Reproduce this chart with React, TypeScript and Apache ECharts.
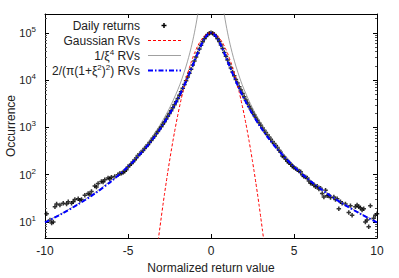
import React, { useEffect, useRef } from "react";
import * as echarts from "echarts";

const FONT = '"Liberation Sans", Arial, Helvetica, sans-serif';

// Daily returns histogram (x = normalized return, y = occurrence)
const returnsLeftTail: [number, number][] = [
  [-9.9, 15], [-9.7, 11], [-9.6, 9.5], [-9.5, 10], [-9.4, 21], [-9.3, 24], [-9.1, 23],
  [-8.9, 25], [-8.7, 24], [-8.6, 27], [-8.4, 25], [-8.3, 27], [-8.2, 30], [-8.0, 31],
  [-7.9, 29], [-7.8, 30], [-7.6, 37], [-7.4, 40], [-7.3, 38], [-7.2, 44], [-7.0, 58],
  [-6.9, 55], [-6.8, 65], [-6.6, 72], [-6.5, 70], [-6.4, 78], [-6.2, 85], [-6.1, 82],
  [-6.0, 88], [-5.8, 92], [-5.6, 100], [-5.5, 106], [-5.4, 108], [-5.3, 112], [-5.2, 118],
  [-5.1, 128], [-5.0, 148], [-4.9, 158], [-4.8, 170], [-4.7, 188], [-4.6, 205], [-4.5, 228],
  [-4.4, 255], [-4.3, 275], [-4.2, 300], [-4.1, 325],
];
const returnsCenter: [number, number][] = [
  [-4.0, 360], [-3.9, 395], [-3.8, 430], [-3.7, 480], [-3.6, 530], [-3.5, 600], [-3.4, 650],
  [-3.3, 740], [-3.2, 820], [-3.1, 930], [-3.0, 1040], [-2.9, 1170], [-2.8, 1320], [-2.7, 1500],
  [-2.6, 1720], [-2.5, 1960], [-2.4, 2250], [-2.3, 2600], [-2.2, 3000], [-2.1, 3500], [-2.0, 4100],
  [-1.9, 4800], [-1.8, 5700], [-1.7, 6750], [-1.6, 8050], [-1.5, 9650], [-1.4, 11600], [-1.3, 14000],
  [-1.2, 17000], [-1.1, 20800], [-1.0, 25400], [-0.9, 31000], [-0.8, 37500], [-0.7, 45500],
  [-0.6, 54500], [-0.5, 64500], [-0.4, 74500], [-0.3, 84000], [-0.2, 92000], [-0.1, 97500],
  [0.0, 100000], [0.1, 97800], [0.2, 92600], [0.3, 84800], [0.4, 75200], [0.5, 65200],
  [0.6, 55500], [0.7, 46500], [0.8, 38600], [0.9, 32000], [1.0, 26500], [1.1, 21800],
  [1.2, 18000], [1.3, 14900], [1.4, 12400], [1.5, 10300], [1.6, 8650], [1.7, 7250], [1.8, 6150],
  [1.9, 5200], [2.0, 4450], [2.1, 3800], [2.2, 3280], [2.3, 2820], [2.4, 2450], [2.5, 2130],
  [2.6, 1850], [2.7, 1620], [2.8, 1420], [2.9, 1250], [3.0, 1110], [3.1, 985], [3.2, 875],
  [3.3, 780], [3.4, 700], [3.5, 630], [3.6, 565], [3.7, 505], [3.8, 460], [3.9, 415], [4.0, 375],
];
const returnsRightTail: [number, number][] = [
  [4.1, 330], [4.2, 300], [4.3, 250], [4.4, 240], [4.5, 212], [4.6, 193], [4.7, 180], [4.8, 166],
  [4.9, 152], [5.0, 142], [5.1, 136], [5.2, 128], [5.3, 120], [5.4, 116], [5.5, 100], [5.6, 92],
  [5.7, 90], [5.8, 85], [5.9, 74], [6.0, 66], [6.1, 65], [6.2, 61], [6.3, 56], [6.4, 57],
  [6.5, 50], [6.6, 52], [6.7, 40], [6.8, 34], [6.9, 47], [7.0, 36], [7.1, 37], [7.2, 33],
  [7.4, 34], [7.5, 30], [7.6, 31], [7.7, 19], [7.8, 27], [7.9, 25], [8.1, 24], [8.3, 16],
  [8.4, 22], [8.5, 14], [8.7, 21], [8.8, 23], [8.9, 21], [9.0, 20], [9.1, 18], [9.2, 19],
  [9.3, 10], [9.4, 11], [9.5, 8], [9.6, 22], [9.8, 12], [9.9, 14], [10.0, 15],
];

// Gaussian RVs curve
const gaussianCurve: [number, number][] = [
  [-3.4, 0.96], [-3.3, 1.9], [-3.2, 3.6], [-3.1, 6.7], [-3.0, 12.3], [-2.9, 22.3], [-2.8, 39.4],
  [-2.7, 68.3], [-2.6, 116], [-2.5, 193], [-2.4, 315], [-2.3, 504], [-2.2, 791], [-2.1, 1215],
  [-2.0, 1832], [-1.9, 2705], [-1.8, 3916], [-1.7, 5558], [-1.6, 7730], [-1.5, 10540],
  [-1.4, 14086], [-1.3, 18452], [-1.2, 23693], [-1.1, 29820], [-1.0, 36788], [-0.9, 44486],
  [-0.8, 52729], [-0.7, 61263], [-0.6, 69768], [-0.5, 77880], [-0.4, 85214], [-0.3, 91393],
  [-0.2, 96079], [-0.1, 99005], [0.0, 100000], [0.1, 99005], [0.2, 96079], [0.3, 91393],
  [0.4, 85214], [0.5, 77880], [0.6, 69768], [0.7, 61263], [0.8, 52729], [0.9, 44486],
  [1.0, 36788], [1.1, 29820], [1.2, 23693], [1.3, 18452], [1.4, 14086], [1.5, 10540],
  [1.6, 7730], [1.7, 5558], [1.8, 3916], [1.9, 2705], [2.0, 1832], [2.1, 1215], [2.2, 791],
  [2.3, 504], [2.4, 315], [2.5, 193], [2.6, 116], [2.7, 68.3], [2.8, 39.4], [2.9, 22.3],
  [3.0, 12.3], [3.1, 6.7], [3.2, 3.6], [3.3, 1.9], [3.4, 0.96],
];

// 1/xi^4 RVs curve (two branches)
const powerLawLeft: [number, number][] = [
  [-10, 10], [-9, 15.2], [-8, 24.4], [-7, 41.6], [-6, 77.2], [-5, 160], [-4, 391], [-3.5, 666],
  [-3, 1235], [-2.5, 2560], [-2, 6250], [-1.75, 10662], [-1.5, 19753], [-1.35, 30107],
  [-1.2, 48225], [-1.1, 68301], [-1.0, 100000], [-0.9, 152416], [-0.8, 244141], [-0.75, 316049],
  [-0.7, 416493],
];
const powerLawRight: [number, number][] = [
  [0.7, 416493], [0.75, 316049], [0.8, 244141], [0.9, 152416], [1.0, 100000], [1.1, 68301],
  [1.2, 48225], [1.35, 30107], [1.5, 19753], [1.75, 10662], [2, 6250], [2.5, 2560], [3, 1235],
  [3.5, 666], [4, 391], [5, 160], [6, 77.2], [7, 41.6], [8, 24.4], [9, 15.2], [10, 10],
];

// 2/(pi(1+xi^2)^2) RVs curve
const studentCurve: [number, number][] = [
  [-10, 9.8], [-9, 14.9], [-8, 23.7], [-7, 40], [-6, 73], [-5, 148], [-4, 346], [-3.5, 570],
  [-3, 1000], [-2.5, 1902], [-2, 4000], [-1.75, 6059], [-1.5, 9467], [-1.25, 15229],
  [-1.0, 25000], [-0.8, 37180], [-0.6, 54066], [-0.4, 74316], [-0.2, 92456], [0, 100000],
  [0.2, 92456], [0.4, 74316], [0.6, 54066], [0.8, 37180], [1.0, 25000], [1.25, 15229],
  [1.5, 9467], [1.75, 6059], [2, 4000], [2.5, 1902], [3, 1000], [3.5, 570], [4, 346],
  [5, 148], [6, 73], [7, 40], [8, 23.7], [9, 14.9], [10, 9.8],
];

const yMajorTicks = [10, 100, 1000, 10000, 100000];
const yMinorTicks = [
  5, 6, 7, 8, 9, 20, 30, 40, 50, 60, 70, 80, 90, 200, 300, 400, 500, 600, 700, 800, 900,
  2000, 3000, 4000, 5000, 6000, 7000, 8000, 9000, 20000, 30000, 40000, 50000, 60000, 70000,
  80000, 90000, 200000,
];
const legendLabels = [
  "Daily returns",
  "Gaussian RVs",
  "1/ξ{sup|4} RVs",
  "2/(π(1+ξ{sup|2}){sup|2}) RVs",
];
const yAxisTitle = "Occurrence";
const xAxisTitle = "Normalized return value";

const Y_MIN = 4.6;
const Y_MAX = 250000;
const PLUS = "path://M2,0H4V2H6V4H4V6H2V4H0V2H2Z";
const RED = "#ff0000";
const GRAY = "#888888";
const BLUE = "#0000ff";
const TXT = "#222222";

export default function App() {
  const ref = useRef<HTMLDivElement>(null);
  useEffect(() => {
    if (!ref.current) return;
    const chart = echarts.init(ref.current, undefined, { renderer: "svg" });
    const supRich = { sup: { fontSize: 8, fontFamily: FONT, padding: [0, 0, 7, 0], color: TXT } };
    const frameLine = { show: true, onZero: false, lineStyle: { color: "#000", width: 1 } };
    const noLine = { show: false, onZero: false };
    const baseY = {
      type: "log",
      min: Y_MIN,
      max: Y_MAX,
      splitLine: { show: false },
    };
    const legendRowY = [25.5, 40.5, 55.5, 70.5];
    const graphic: any[] = legendLabels.map((t, i) => ({
      type: "text",
      style: {
        text: t,
        x: 140,
        y: legendRowY[i],
        align: "right",
        verticalAlign: "middle",
        font: `12px ${FONT}`,
        fill: TXT,
        rich: { sup: { fontSize: 8, fontFamily: FONT, padding: [0, 0, 7, 0], fill: TXT } },
      },
      z: 100,
    }));
    graphic.push(
      { type: "line", shape: { x1: 161.5, y1: legendRowY[0], x2: 166.5, y2: legendRowY[0] }, style: { stroke: "#000", lineWidth: 1.5 }, z: 100 },
      { type: "line", shape: { x1: 164, y1: legendRowY[0] - 2.5, x2: 164, y2: legendRowY[0] + 2.5 }, style: { stroke: "#000", lineWidth: 1.5 }, z: 100 },
      { type: "line", shape: { x1: 148, y1: legendRowY[1], x2: 181, y2: legendRowY[1] }, style: { stroke: RED, lineWidth: 1, lineDash: [3, 2] }, z: 100 },
      { type: "line", shape: { x1: 148, y1: legendRowY[2], x2: 181, y2: legendRowY[2] }, style: { stroke: GRAY, lineWidth: 0.8 }, z: 100 },
      { type: "line", shape: { x1: 148, y1: legendRowY[3], x2: 181, y2: legendRowY[3] }, style: { stroke: BLUE, lineWidth: 2, lineDash: [5, 2, 1.5, 2] }, z: 100 },
      {
        type: "text",
        x: 11,
        y: 126,
        rotation: Math.PI / 2,
        style: {
          text: yAxisTitle,
          x: 0,
          y: 0,
          align: "center",
          verticalAlign: "middle",
          font: `12px ${FONT}`,
          fill: TXT,
        },
        z: 100,
      }
    );

    chart.setOption({
      animation: false,
      grid: { left: 45, right: 22, top: 14, bottom: 40, containLabel: false, outerBoundsMode: "none" },
      xAxis: [
        {
          type: "value",
          min: -10,
          max: 10,
          interval: 5,
          position: "bottom",
          name: xAxisTitle,
          nameLocation: "middle",
          nameGap: 24,
          nameTextStyle: { fontFamily: FONT, fontSize: 12, color: TXT },
          axisLine: frameLine,
          axisTick: { inside: true, length: 4, lineStyle: { color: "#000" } },
          axisLabel: { fontFamily: FONT, fontSize: 12, color: TXT, margin: 7 },
          splitLine: { show: false },
        },
        {
          type: "value",
          min: -10,
          max: 10,
          interval: 5,
          position: "top",
          axisLine: frameLine,
          axisTick: { inside: true, length: 4, lineStyle: { color: "#000" } },
          axisLabel: { show: false },
          splitLine: { show: false },
        },
      ],
      yAxis: [
        {
          ...baseY,
          position: "left",
          axisLine: frameLine,
          axisTick: { inside: true, length: 4, lineStyle: { color: "#000" }, customValues: yMajorTicks },
          axisLabel: {
            customValues: yMajorTicks,
            fontFamily: FONT,
            fontSize: 11,
            color: TXT,
            margin: 9,
            formatter: (v: number) => "10{sup|" + Math.round(Math.log10(v)) + "}",
            rich: supRich,
          },
        },
        {
          ...baseY,
          position: "left",
          axisLine: noLine,
          axisTick: { inside: true, length: 2, lineStyle: { color: "#555" }, customValues: yMinorTicks },
          axisLabel: { show: false },
        },
        {
          ...baseY,
          position: "right",
          axisLine: frameLine,
          axisTick: { inside: true, length: 4, lineStyle: { color: "#000" }, customValues: yMajorTicks },
          axisLabel: { show: false },
        },
        {
          ...baseY,
          position: "right",
          axisLine: noLine,
          axisTick: { inside: true, length: 2, lineStyle: { color: "#555" }, customValues: yMinorTicks },
          axisLabel: { show: false },
        },
      ],
      series: [
        {
          type: "scatter",
          data: [...returnsLeftTail, ...returnsCenter, ...returnsRightTail],
          symbol: PLUS,
          symbolSize: 4.5,
          itemStyle: { color: "#000" },
          silent: true,
          z: 2,
        },
        {
          type: "line",
          data: gaussianCurve,
          showSymbol: false,
          symbol: "none",
          smooth: 0.2,
          lineStyle: { color: RED, width: 1, type: [3, 2] },
          silent: true,
          z: 3,
        },
        {
          type: "line",
          data: powerLawLeft,
          showSymbol: false,
          symbol: "none",
          smooth: 0.3,
          lineStyle: { color: GRAY, width: 0.8 },
          silent: true,
          z: 4,
        },
        {
          type: "line",
          data: powerLawRight,
          showSymbol: false,
          symbol: "none",
          smooth: 0.3,
          lineStyle: { color: GRAY, width: 0.8 },
          silent: true,
          z: 4,
        },
        {
          type: "line",
          data: studentCurve,
          showSymbol: false,
          symbol: "none",
          smooth: 0.3,
          lineStyle: { color: BLUE, width: 2, type: [5, 2, 1.5, 2] },
          silent: true,
          z: 5,
        },
      ],
      graphic,
    });
    return () => chart.dispose();
  }, []);
  return (
    <div
      ref={ref}
      style={{ position: "absolute", left: 0, top: 0, width: 399, height: 278, background: "#fff" }}
    />
  );
}
